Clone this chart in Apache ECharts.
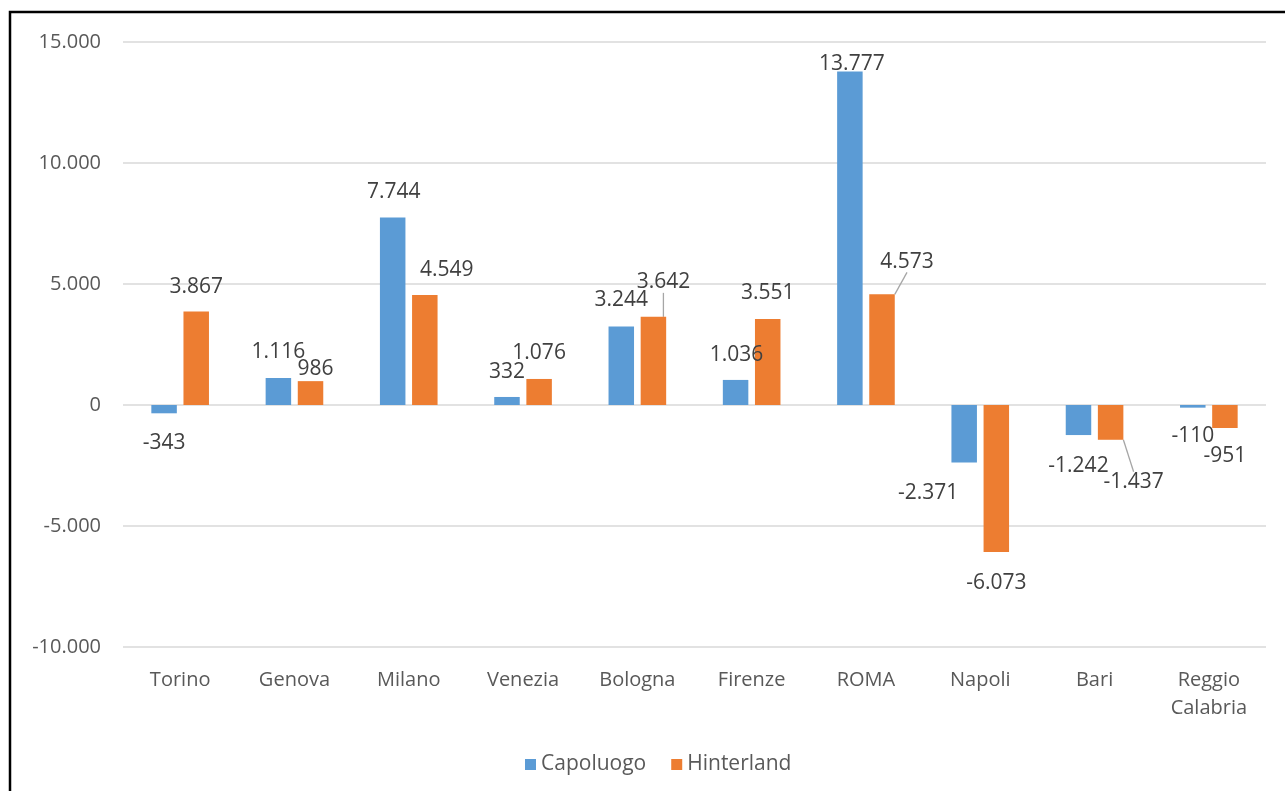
<!DOCTYPE html>
<html>
<head>
<meta charset="utf-8">
<script src="https://cdn.jsdelivr.net/npm/echarts@6/dist/echarts.min.js"></script>
<style>
  html, body { margin: 0; padding: 0; background: #fff; }
  #chart { width: 1285px; height: 791px; }
</style>
</head>
<body>
<div id="chart"></div>
<script>
// valori
const categories = ['Torino', 'Genova', 'Milano', 'Venezia', 'Bologna', 'Firenze', 'ROMA', 'Napoli', 'Bari', 'Reggio\nCalabria']
const capoluogo = [-343, 1116, 7744, 332, 3244, 1036, 13777, -2371, -1242, -110]
const hinterland = [3867, 986, 4549, 1076, 3642, 3551, 4573, -6073, -1437, -951]
const yTicks = { min: -10000, max: 15000, interval: 5000 }

// spostamenti etichette (come trascinate in Excel)
const shiftCap = [[0, 14], [0, -10], [1, -10], [0, -9], [0, -11], [1, -9], [2, 8], [-36, 15], [0, 15], [0, 13]]
const shiftHint = [[0, -9], [5, 3], [22, -9], [0, -10], [10, -19], [0, -11], [25, -17], [0, 16], [23, 27], [0, 13]]
const leaderHint = [4, 6, 8]

const fmt = v => {
  const s = Math.abs(v).toString().replace(/\B(?=(\d{3})+(?!\d))/g, '.')
  return (v < 0 ? '-' : '') + s
}

const toData = (vals, leaders) => vals.map((v, i) => ({
  value: v,
  label: { position: v < 0 ? 'bottom' : 'top' },
  labelLine: { show: leaders.includes(i) }
}))

const FONT = '"Open Sans", sans-serif'

const chart = echarts.init(document.getElementById('chart'), null, { renderer: 'canvas' })

const makeSeries = (name, vals, color, shifts, leaders) => ({
  name,
  type: 'bar',
  data: toData(vals, leaders),
  barWidth: 25.5,
  barGap: '26%',
  itemStyle: { color },
  label: {
    show: true,
    distance: 5,
    fontFamily: FONT,
    fontSize: 21,
    color: '#404040',
    formatter: p => fmt(p.value)
  },
  labelLine: { show: false, lineStyle: { color: '#a6a6a6', width: 1.3 } },
  labelLayout: p => ({ dx: shifts[p.dataIndex][0], dy: shifts[p.dataIndex][1] }),
  animation: false
})

chart.setOption({
  backgroundColor: '#fff',
  animation: false,
  graphic: [{
    type: 'rect',
    shape: { x: 10, y: 12, width: 1300, height: 800 },
    style: { fill: 'none', stroke: '#000', lineWidth: 2.5 },
    silent: true
  }],
  grid: { left: 123, right: 19, top: 42, bottom: 144 },
  legend: {
    left: 520,
    top: 749,
    icon: 'rect',
    itemWidth: 11,
    itemHeight: 11,
    itemGap: 25,
    textStyle: { fontFamily: FONT, fontSize: 21, color: '#595959' },
    data: ['Capoluogo', 'Hinterland']
  },
  xAxis: {
    type: 'category',
    data: categories,
    axisLine: { show: false, onZero: false },
    axisTick: { show: false },
    axisLabel: {
      margin: 19,
      fontFamily: FONT,
      fontSize: 20,
      lineHeight: 28,
      color: '#595959',
      interval: 0
    }
  },
  yAxis: {
    type: 'value',
    min: yTicks.min,
    max: yTicks.max,
    interval: yTicks.interval,
    axisLine: { show: false },
    axisTick: { show: false },
    splitLine: { lineStyle: { color: '#d9d9d9', width: 1.5 } },
    axisLabel: {
      margin: 22,
      fontFamily: FONT,
      fontSize: 20,
      color: '#595959',
      formatter: v => fmt(v)
    }
  },
  series: [
    makeSeries('Capoluogo', capoluogo, '#5b9bd5', shiftCap, []),
    makeSeries('Hinterland', hinterland, '#ed7d31', shiftHint, leaderHint)
  ]
})
</script>
</body>
</html>
